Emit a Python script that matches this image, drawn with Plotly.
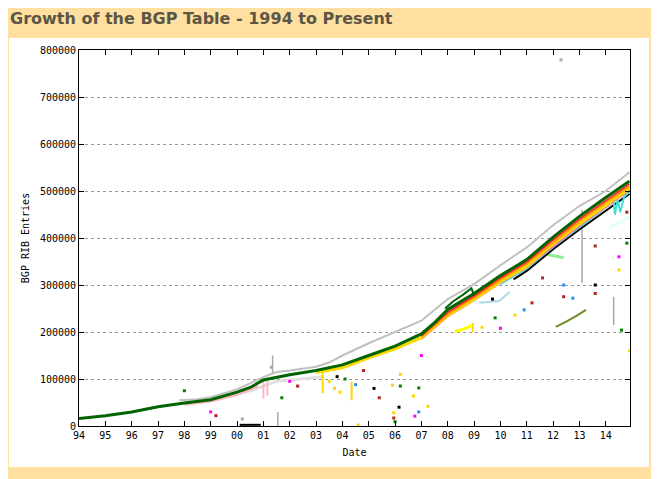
import plotly.graph_objects as go

# decimal years and RIB entry counts
main_years = [1994.0, 1995.0, 1996.0, 1997.0, 1998.0, 1999.0, 2000.0, 2000.5, 2001.0, 2001.5,
              2002.0, 2003.0, 2004.0, 2005.0, 2006.0, 2007.0, 2007.5, 2008.0, 2009.0, 2010.0,
              2011.0, 2012.0, 2013.0, 2014.0, 2014.9]
green_main = [16000, 22000, 30000, 41000, 49000, 56000, 72000, 82000, 98000, 104000,
              109000, 118000, 130000, 150000, 170000, 196000, 220000, 248000, 282000, 320000,
              354000, 402000, 446000, 486000, 521000]

gray_years = [1997.8, 1998.5, 1999.0, 2000.0, 2001.0, 2001.5, 2002.0, 2003.0, 2003.5, 2004.0,
              2005.0, 2006.0, 2007.0, 2008.0, 2009.0, 2010.0, 2011.0, 2012.0, 2013.0, 2014.0, 2014.9]
gray_upper = [55000, 57000, 61000, 78000, 104000, 115000, 118000, 126000, 135000, 150000,
              176000, 200000, 224000, 270000, 302000, 342000, 380000, 427000, 468000, 500000, 540000]

band_years = [2007.0, 2008.0, 2009.0, 2010.0, 2011.0, 2012.0, 2013.0, 2014.0, 2014.9]
red_band = [192000, 242000, 277000, 315000, 349000, 396000, 440000, 480000, 515000]
orange_band = [189000, 238000, 273000, 311000, 345000, 391000, 435000, 475000, 510000]
pink_band = [185000, 233000, 268000, 305000, 338000, 383000, 426000, 466000, 502000]

yellow_years = [2003.0, 2004.0, 2005.0, 2006.0, 2007.0, 2008.0, 2009.0, 2010.0, 2011.0,
                2012.0, 2013.0, 2014.0, 2014.9]
yellow_band = [114000, 124000, 145000, 164000, 188000, 235000, 269000, 307000, 340000,
               387000, 430000, 470000, 505000]

black_years = [2010.5, 2011.0, 2012.0, 2013.0, 2014.0, 2014.9]
black_band = [312000, 330000, 376000, 418000, 458000, 494000]

cyan_years = [2010.0, 2011.0, 2012.0, 2013.0, 2014.0, 2014.3, 2014.35, 2014.45, 2014.55, 2014.7, 2014.9]
cyan_band = [302000, 335000, 381000, 423000, 466000, 478000, 450000, 482000, 455000, 488000, 498000]

pink_early_years = [1998.0, 1999.0, 2000.0, 2000.8]
pink_early = [46000, 53000, 67000, 85000]

lgray_years = [1999.5, 2000.5, 2001.5, 2002.5, 2003.3]
lgray_low = [60000, 75000, 95000, 100000, 105000]

green_high_years = [2007.9, 2008.2, 2008.6, 2008.9, 2009.0]
green_high = [250000, 265000, 280000, 293000, 278000]

olive_years = [2012.1, 2012.5, 2012.9, 2013.25]
olive_vals = [211000, 222000, 235000, 247000]

yellow_seg_years = [2008.27, 2008.6, 2008.9]
yellow_seg = [201000, 206000, 213000]

lblue_years = [2009.2, 2009.6, 2009.95, 2010.35]
lblue_vals = [262000, 264000, 266000, 285000]

lcyan_years = [2014.15, 2014.5, 2014.9]
lcyan_vals = [423000, 432000, 445000]

lgreen_years = [2011.8, 2012.4]
lgreen_vals = [365000, 358000]

# vertical streaks (pairs separated by None)
streak_yellow_x = [2003.25, 2003.25, None, 2004.35, 2004.35, None, 2008.95, 2008.95]
streak_yellow_y = [70000, 119000, None, 55000, 94000, None, 200000, 219000]
streak_pink_x = [2001.0, 2001.0, None, 2001.15, 2001.15]
streak_pink_y = [58000, 96000, None, 65000, 98000]
streak_gray_x = [2001.35, 2001.35, None, 2001.55, 2001.55, None, 2013.1, 2013.1, None, 2014.3, 2014.3]
streak_gray_y = [113000, 150000, None, 0, 30000, None, 460000, 304000, None, 275000, 215000]
black_bar_x = [2000.1, 2000.9]
black_bar_y = [2500, 2500]

# scattered outliers
dots_yellow_x = [2003.5, 2003.7, 2003.9, 2005.9, 2006.7, 2007.25, 2005.95, 2004.6, 2010.55, 2014.5, 2014.9, 2009.3, 2006.2]
dots_yellow_y = [95000, 80000, 72000, 87000, 64000, 42000, 28000, 2000, 236000, 332000, 160000, 210000, 110000]
dots_red_x = [2005.4, 2005.95, 2011.6, 2011.2, 2012.4, 2013.6, 2013.6, 2014.8, 2004.8, 2002.3, 1999.2]
dots_red_y = [60000, 17000, 315000, 262000, 275000, 282000, 383000, 455000, 118000, 85000, 22000]
dots_green_x = [2006.2, 2006.0, 2006.9, 2014.8, 2014.6, 1998.0, 2001.7, 2004.1, 2009.8]
dots_green_y = [85000, 9000, 81000, 389000, 204000, 75000, 60000, 100000, 230000]
dots_magenta_x = [2006.75, 2014.5, 2010.0, 1999.0, 2002.0, 2007.0]
dots_magenta_y = [21000, 360000, 208000, 30000, 95000, 150000]
dots_blue_x = [2006.9, 2010.9, 2012.75, 2012.4, 2004.5]
dots_blue_y = [30000, 247000, 272000, 300000, 88000]
dots_black_x = [2006.15, 2009.7, 2013.6, 2003.8, 2005.2]
dots_black_y = [40000, 270000, 300000, 105000, 80000]
dots_gray_x = [2012.3, 2001.3, 2000.2]
dots_gray_y = [779000, 125000, 15000]

fig = go.Figure()


def add_line(x, y, color, width=2):
    fig.add_trace(go.Scatter(x=x, y=y, mode="lines", line=dict(color=color, width=width),
                             hoverinfo="skip"))


def add_dots(x, y, color):
    fig.add_trace(go.Scatter(x=x, y=y, mode="markers",
                             marker=dict(color=color, size=3, symbol="square"),
                             hoverinfo="skip"))


add_line(lgray_years, lgray_low, "#e0e0e0", 3)
add_line(pink_early_years, pink_early, "#ffb6c1", 3)
add_line(gray_years, gray_upper, "#c0c0c0", 2)
add_line(streak_pink_x, streak_pink_y, "#ffb6c1", 2)
add_line(streak_gray_x, streak_gray_y, "#a9a9a9", 1.5)
add_line(streak_yellow_x, streak_yellow_y, "#ffd700", 2)
add_line(black_bar_x, black_bar_y, "#000000", 2)
add_line(lblue_years, lblue_vals, "#add8e6", 2)
add_line(lcyan_years, lcyan_vals, "#e0ffff", 3)
add_line(lgreen_years, lgreen_vals, "#90ee90", 3)
add_line(olive_years, olive_vals, "#6b8e23", 2)
add_line(yellow_seg_years, yellow_seg, "#ffff00", 3)
add_line(black_years, black_band, "#000000", 2)
add_line(cyan_years, cyan_band, "#40e0d0", 2)
add_line(band_years, pink_band, "#ff66cc", 2)
add_line(yellow_years, yellow_band, "#ffd700", 3)
add_line(band_years, orange_band, "#ffa500", 2)
add_line(band_years, red_band, "#ff2a2a", 2)
add_line(green_high_years, green_high, "#006400", 2)
add_line(main_years, green_main, "#006400", 3)

add_dots(dots_yellow_x, dots_yellow_y, "#ffd700")
add_dots(dots_red_x, dots_red_y, "#b22222")
add_dots(dots_green_x, dots_green_y, "#008000")
add_dots(dots_magenta_x, dots_magenta_y, "#ff00ff")
add_dots(dots_blue_x, dots_blue_y, "#1e90ff")
add_dots(dots_black_x, dots_black_y, "#000000")
add_dots(dots_gray_x, dots_gray_y, "#a9a9a9")

tick_years = list(range(1994, 2015))
tick_text = [str(y)[2:] for y in tick_years]
mono = dict(family="DejaVu Sans Mono", size=10, color="black")

# the page puts the figure 8px in from the top-left corner, so it is drawn 8px smaller
fig.update_layout(
    width=651, height=471,
    paper_bgcolor="#ffe0a0", plot_bgcolor="white",
    margin=dict(l=71, r=29, t=42, b=53),
    showlegend=False,
    title=dict(text="<b>Growth of the BGP Table - 1994 to Present</b>",
               font=dict(family="DejaVu Sans", size=16, color="#5c5646"),
               x=2 / 651, xanchor="left", xref="container",
               y=1 - 10 / 471, yanchor="middle", yref="container"),
    shapes=[dict(type="rect", xref="paper", yref="paper", layer="below",
                 x0=-70 / 551, x1=570 / 551, y0=-41 / 376, y1=388 / 376,
                 fillcolor="white", line=dict(width=0))],
)
fig.update_xaxes(range=[1994, 2014.92], tickvals=tick_years, ticktext=tick_text,
                 ticks="inside", ticklen=5, tickcolor="black", showgrid=False,
                 showline=True, linecolor="black", linewidth=1, mirror="ticks",
                 tickfont=mono, title=dict(text="Date", font=mono, standoff=8),
                 zeroline=False)
fig.update_yaxes(range=[0, 800000], dtick=100000, tickformat="d",
                 ticks="inside", ticklen=5, tickcolor="black",
                 showgrid=True, gridcolor="#999999", griddash="3px,3px", gridwidth=1,
                 showline=True, linecolor="black", linewidth=1, mirror="ticks",
                 tickfont=mono, title=dict(text="BGP RIB Entries", font=mono, standoff=8),
                 zeroline=False)

fig.write_html("out.html")
